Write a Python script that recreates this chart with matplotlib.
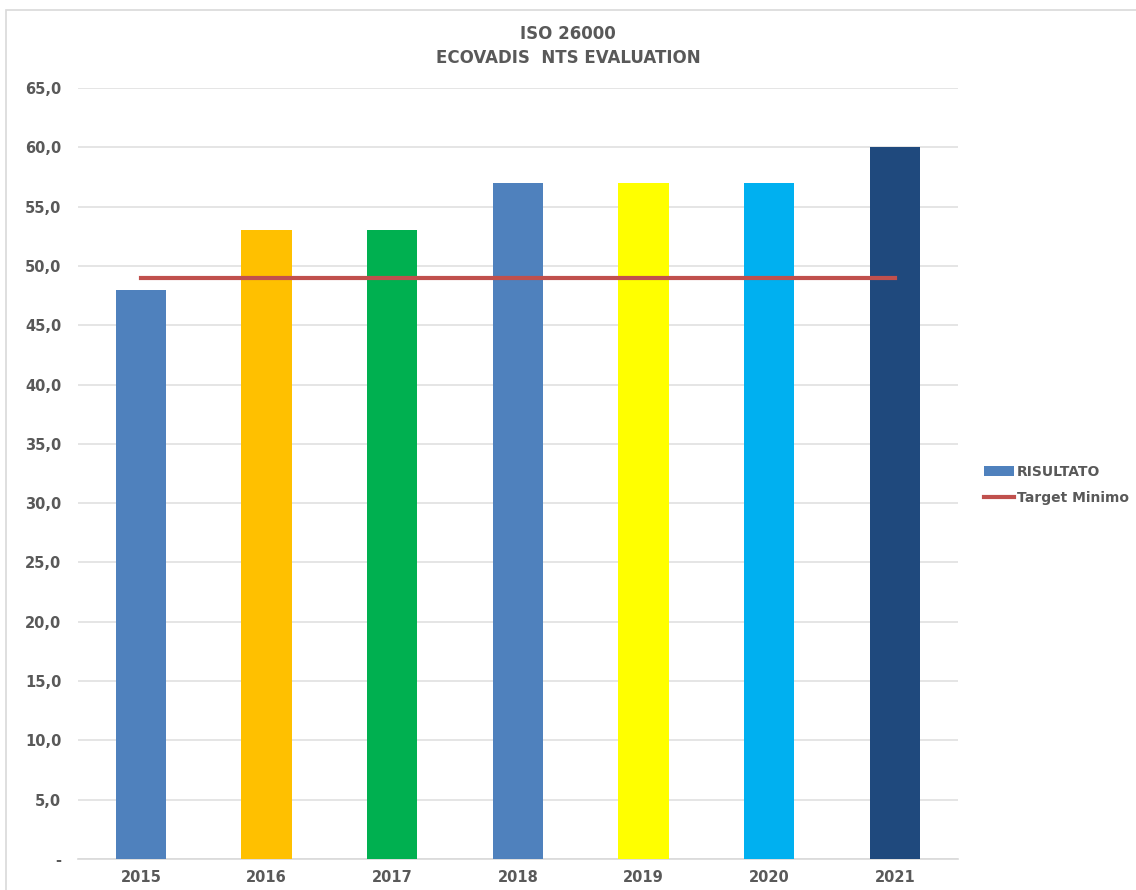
# ISO 26000 - Ecovadis NTS evaluation chart

# Import libraries
import matplotlib.pyplot as plt
from matplotlib.patches import Rectangle, Patch
from matplotlib.lines import Line2D
from matplotlib.ticker import FuncFormatter

# Data
years = ["2015", "2016", "2017", "2018", "2019", "2020", "2021"]
risultato = [48, 53, 53, 57, 57, 57, 60]
target_minimo = [49, 49, 49, 49, 49, 49, 49]
bar_colors = ["#4F81BD", "#FFC000", "#00B050", "#4F81BD", "#FFFF00", "#00B0F0", "#1F497D"]

text_color = "#595959"

# Figure and axes
fig = plt.figure(figsize = (11.36, 8.9), dpi = 100)
ax = fig.add_axes([0.0687, 0.0348, 0.7743, 0.8663])

# Outer chart border
fig.patches.append(Rectangle((0.005, -0.01), 1.0, 0.999, transform = fig.transFigure,
                             fill = False, edgecolor = "#D9D9D9", linewidth = 1.2))

# Bars and target line
x = range(len(years))
ax.bar(x, risultato, width = 0.4, color = bar_colors, zorder = 3)
ax.plot(x, target_minimo, color = "#C0504D", linewidth = 3, zorder = 4)

# Axes style
ax.set_xlim(-0.5, len(years) - 0.5)
ax.set_ylim(0, 65)
ax.set_yticks(range(0, 66, 5))
ax.yaxis.set_major_formatter(FuncFormatter(lambda v, p: "-" if v == 0 else f"{v:.1f}".replace(".", ",")))
ax.set_xticks(list(x))
ax.set_xticklabels(years)
ax.grid(axis = "y", color = "#E0E0E0", linewidth = 1.2, zorder = 0)
for side in ["top", "right", "left"]:
    ax.spines[side].set_visible(False)
ax.spines["bottom"].set_color("#D9D9D9")
ax.spines["bottom"].set_linewidth(1.2)
ax.tick_params(length = 0, colors = text_color, labelsize = 10.5, pad = 8)
for lbl in ax.get_xticklabels() + ax.get_yticklabels():
    lbl.set_fontweight("bold")
ax.tick_params(axis = "y", pad = 12)

# Title
fig.text(0.5, 0.962, "ISO 26000", ha = "center", va = "center", fontsize = 12,
         fontweight = "bold", color = text_color, family = ["Liberation Sans Narrow", "DejaVu Sans"])
fig.text(0.5, 0.935, "ECOVADIS  NTS EVALUATION", ha = "center", va = "center", fontsize = 12,
         fontweight = "bold", color = text_color, family = ["Liberation Sans Narrow", "DejaVu Sans"])

# Legend
handles = [Patch(facecolor = "#4F81BD", label = "RISULTATO"),
           Line2D([0], [0], color = "#C0504D", linewidth = 3, label = "Target Minimo")]
leg = fig.legend(handles = handles, loc = "center left", bbox_to_anchor = (0.855, 0.455),
                 frameon = False, fontsize = 10, handlelength = 2.2, handletextpad = 0.2,
                 labelspacing = 0.9)
for t in leg.get_texts():
    t.set_color(text_color)
    t.set_fontweight("bold")

plt.savefig("out.png", dpi = 100)
